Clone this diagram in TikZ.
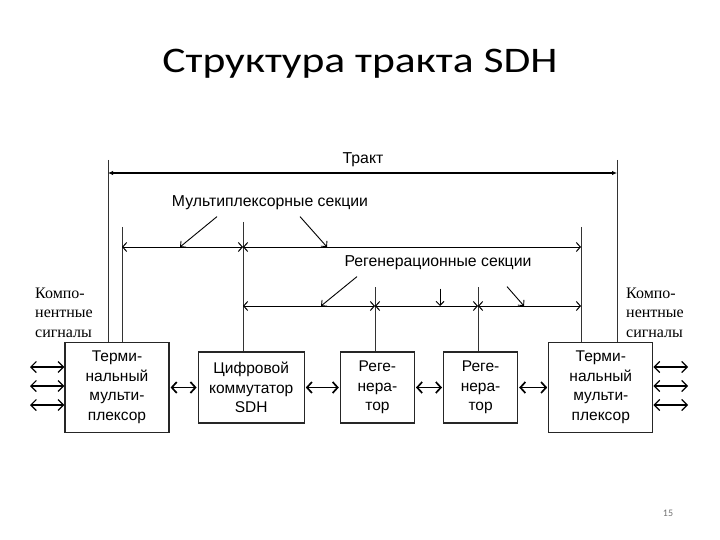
\documentclass[tikz,border=0pt]{standalone}
\usepackage{fontspec}
\usepackage{graphicx}
\setmainfont{Liberation Sans}
\newfontfamily\sidefont{Liberation Serif}
\newfontfamily\titlefont{Carlito}
\usetikzlibrary{arrows.meta,positioning}

\begin{document}
\begin{tikzpicture}[
  x=1pt, y=-1pt,
  font=\fontsize{15.5}{19.5}\selectfont,
  unit/.style={draw=black!85, line width=1.2pt, align=center, inner sep=2pt,
               minimum height=71pt},
  term/.style={unit, minimum width=104pt, minimum height=90pt},
  regen/.style={unit, minimum width=74pt},
  link/.style={{Straight Barb[length=5pt,width=11pt]}-{Straight Barb[length=5pt,width=11pt]},
               line width=1.7pt, shorten <=1pt, shorten >=1pt},
  io/.style={{Straight Barb[length=5.5pt,width=11pt]}-{Straight Barb[length=5.5pt,width=11pt]},
             line width=1.2pt},
  dim/.style={{Straight Barb[length=4pt,width=9pt]}-{Straight Barb[length=4pt,width=9pt]},
              line width=1pt},
  span/.style={{Latex[length=5pt,width=4.5pt]}-{Latex[length=5pt,width=4.5pt]}, line width=1.1pt},
  tick/.style={line width=0.9pt, draw=black!80},
  pointer/.style={-{Straight Barb[length=4pt,width=8pt]}, line width=0.9pt},
  lbl/.style={font=\fontsize{15.8}{18}\selectfont},
  side/.style={font=\sidefont\fontsize{16}{19.5}\selectfont, align=left, inner sep=0pt, anchor=west}
]
\useasboundingbox (0,0) rectangle (720,540);

\node[font=\titlefont\fontsize{36}{42}\selectfont, anchor=base] (title) at (360,73)
  {\scalebox{1.21}[1]{Структура тракта SDH}};
\node[font=\titlefont\fontsize{10}{12}\selectfont, text=black!55] (page) at (668,513) {15};

% units of the path
\node[term] (termL) at (117,387.5) {Терми-\\нальный\\мульти-\\плексор};
\node[unit, minimum width=106pt, right=28pt of termL] (switch) {Цифровой\\коммутатор\\SDH};
\node[regen, right=35pt of switch] (regA) {Реге-\\нера-\\тор};
\node[regen, right=28pt of regA] (regB) {Реге-\\нера-\\тор};
\node[term, right=30pt of regB] (termR) {Терми-\\нальный\\мульти-\\плексор};

\draw[link] (termL) -- (switch);
\draw[link] (switch) -- (regA);
\draw[link] (regA) -- (regB);
\draw[link] (regB) -- (termR);

% component signals
\node[side] (compL) at (35,312.5) {Компо-\\нентные\\сигналы};
\node[side] (compR) at (626,312.5) {Компо-\\нентные\\сигналы};
\foreach \k/\yy in {1/367,2/386,3/405} {
  \coordinate (inL\k) at (30,\yy);
  \coordinate (outR\k) at (688,\yy);
  \draw[io] (inL\k) -- (inL\k -| termL.west);
  \draw[io] (outR\k -| termR.east) -- (outR\k);
}

% section boundaries
\coordinate (trL) at (108,160);
\coordinate (trR) at (617,160);
\coordinate (muxL) at (122,227);
\coordinate (muxM) at (243,222);
\coordinate (muxR) at (581,227);
\coordinate (rgA) at (375,287);
\coordinate (rgB) at (478,287);
\draw[tick] (trL) -- (trL |- termL.north);
\draw[tick] (trR) -- (trR |- termR.north);
\draw[tick] (muxL) -- (muxL |- termL.north);
\draw[tick] (muxM) -- (muxM |- switch.north);
\draw[tick] (muxR) -- (muxR |- termR.north);
\draw[tick] (rgA) -- (rgA |- regA.north);
\draw[tick] (rgB) -- (rgB |- regB.north);

% dimension lines
\coordinate (trakt) at (0,173);
\coordinate (mux) at (0,247);
\coordinate (reg) at (0,306);
\draw[span] (trL |- trakt) -- (trR |- trakt);
\draw[dim] (muxL |- mux) -- (muxM |- mux);
\draw[dim] (muxM |- mux) -- (muxR |- mux);
\draw[dim] (muxM |- reg) -- (rgA |- reg);
\draw[dim] (rgA |- reg) -- (rgB |- reg);
\draw[dim] (rgB |- reg) -- (muxR |- reg);

% labels
\node[lbl] (traktlbl) at (363,160) {Тракт};
\node[lbl] (muxlbl) at (270,203) {Мультиплексорные секции};
\node[lbl] (reglbl) at (438,263) {Регенерационные секции};
\draw[pointer] ([xshift=-53pt,yshift=-3pt]muxlbl.south) -- ([xshift=180pt]mux);
\draw[pointer] ([xshift=30pt,yshift=-3pt]muxlbl.south) -- ([xshift=327pt]mux);
\draw[pointer] ([xshift=-81pt,yshift=-3pt]reglbl.south) -- ([xshift=321pt]reg);
\draw[pointer] ([xshift=2pt,yshift=-15pt]reglbl.south) -- ([xshift=440pt]reg);
\draw[pointer] ([xshift=69pt,yshift=-13pt]reglbl.south) -- ([xshift=524pt]reg);

\end{tikzpicture}
\end{document}
